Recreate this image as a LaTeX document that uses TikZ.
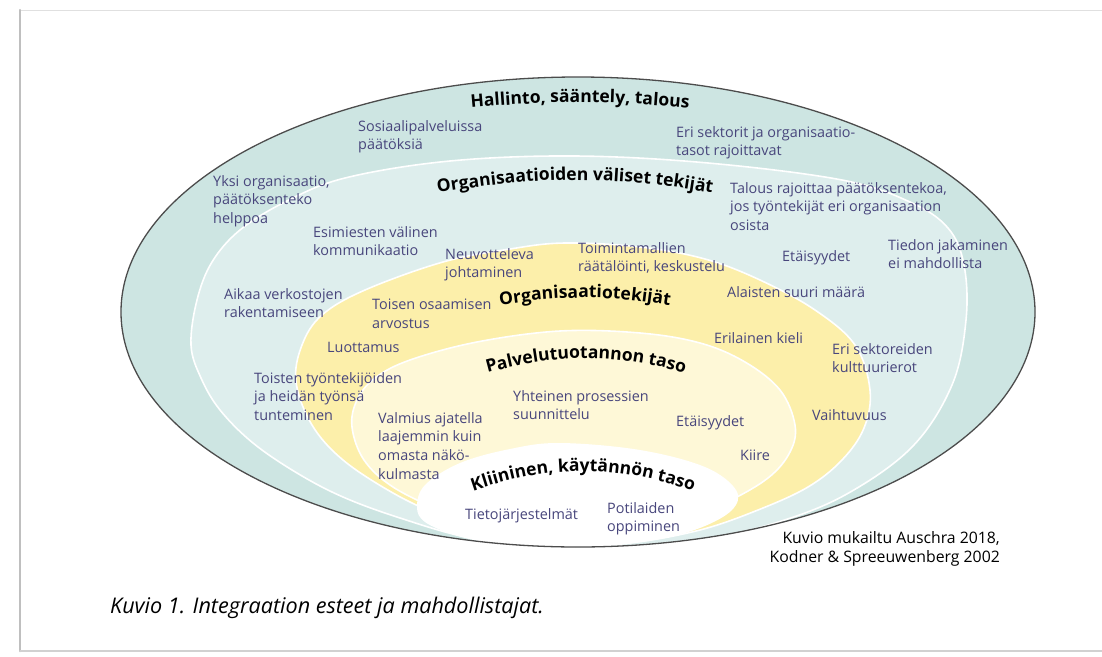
\documentclass[tikz,border=0pt]{standalone}
\usepackage{fontspec}
\setmainfont{Open Sans}
\usetikzlibrary{decorations.text}
\definecolor{tealout}{RGB}{205,229,226}
\definecolor{tealin}{RGB}{222,238,237}
\definecolor{yelout}{RGB}{252,239,170}
\definecolor{yelin}{RGB}{254,248,215}
\definecolor{lblcol}{RGB}{72,70,124}
\begin{document}
\begin{tikzpicture}[x=1pt,y=-1pt,line join=round,line cap=round,
  lbl/.style={font=\fontsize{14.4}{18.7}\selectfont,text=lblcol,align=left,anchor=north west,
    inner sep=0pt,execute at begin node=\strut,yshift=13.1pt},
  ttl/.style={decorate,decoration={text along path,text align=center,
    text={|\bfseries\fontsize{17.5}{19}\selectfont|#1}}},
  ring/.style={draw=white,line width=1.6pt}]
\useasboundingbox (0,0) rectangle (1102,656);
% page frame
\draw[black!12,line width=1pt] (1102,10) -- (20,10);
\draw[black!25,line width=2.5pt] (20,10) -- (20,651);
\draw[black!18,line width=1.5pt] (20,651) -- (1102,651);
% outer level
\def\cx{578} \def\cy{312}
\fill[tealout] (\cx,\cy) ellipse [x radius=457, y radius=235];
\begin{scope}
\clip (\cx,\cy) ellipse [x radius=457, y radius=235];
\filldraw[fill=tealin,ring] plot[smooth cycle,tension=0.6] coordinates {(191,345) (197,300) (212,262) (240,230) (285,202) (345,178) (450,161) (575,156) (708,163) (842,180) (910,202) (948,228) (964,265) (966,320) (952,385) (912,447) (845,495) (775,523) (700,540) (620,546) (545,547) (470,538) (400,518) (343,497) (297,473) (253,443) (220,410) (201,378)};
\filldraw[fill=yelout,ring] plot[smooth cycle,tension=0.6] coordinates {(296,382) (302,345) (322,315) (365,290) (443,262) (510,249) (565,243) (640,247) (705,259) (760,280) (815,310) (855,345) (870,390) (864,428) (842,460) (808,487) (758,510) (700,530) (630,543) (560,547) (500,540) (443,517) (393,493) (343,460) (312,425)};
\filldraw[fill=yelin,ring] plot[smooth cycle,tension=0.6] coordinates {(352,427) (357,400) (375,378) (410,360) (477,342) (560,331) (640,333) (700,343) (745,362) (780,390) (795,425) (790,452) (768,478) (725,503) (675,523) (620,540) (560,547) (500,537) (443,512) (393,487) (364,460)};
\fill[white] plot[smooth cycle,tension=0.6] coordinates {(417,507) (425,485) (460,463) (510,449) (560,443) (640,450) (705,467) (736,490) (732,510) (700,528) (655,540) (600,546) (545,548) (495,544) (455,535) (425,522)};
\end{scope}
\draw[black!70,line width=1.3pt] (\cx,\cy) ellipse [x radius=457, y radius=235];
% level titles
\path[ttl={Hallinto, sääntely, talous}] (440,111) to[bend left=6] (720,111);
\path[ttl={Organisaatioiden väliset tekijät}] (405,199) to[bend left=11] (745,199);
\path[ttl={Organisaatiotekijät}] (460,313) to[bend left=12] (710,313);
\path[ttl={Palvelutuotannon taso}] (452,384) to[bend left=19] (720,384);
\path[ttl={Kliininen, käytännön taso}] (436,506) to[bend left=24] (730,506);
% barriers and enablers
\foreach \x/\y/\t/\n in {
  358/133/{Sosiaalipalveluissa\\päätöksiä}/sos,
  676/139/{Eri sektorit ja organisaatio-\\tasot rajoittavat}/sektorit,
  213/188/{Yksi organisaatio,\\päätöksenteko\\helppoa}/yksi,
  730/195/{Talous rajoittaa päätöksentekoa,\\jos työntekijät eri organisaation\\osista}/talous,
  313/239/{Esimiesten välinen\\kommunikaatio}/esim,
  445/261/{Neuvotteleva\\johtaminen}/neuv,
  578/255/{Toimintamallien\\räätälöinti, keskustelu}/toim,
  782/261/{Etäisyydet}/etaA,
  888/252/{Tiedon jakaminen\\ei mahdollista}/tiedon,
  727/297/{Alaisten suuri määrä}/alaiset,
  224/301/{Aikaa verkostojen\\rakentamiseen}/aikaa,
  372/312/{Toisen osaamisen\\arvostus}/toisen,
  327/352/{Luottamus}/luott,
  714/343/{Erilainen kieli}/kieli,
  832/356/{Eri sektoreiden\\kulttuurierot}/kulttuuri,
  254/385/{Toisten työntekijöiden\\ja heidän työnsä\\tunteminen}/toisten,
  513/403/{Yhteinen prosessien\\suunnittelu}/yht,
  378/425/{Valmius ajatella\\laajemmin kuin\\omasta näkö-\\kulmasta}/valmius,
  676/426/{Etäisyydet}/etaB,
  812/420/{Vaihtuvuus}/vaiht,
  740/460/{Kiire}/kiire,
  465/519/{Tietojärjestelmät}/tieto,
  607/515/{Potilaiden\\oppiminen}/potil}
  \node[lbl] (\n) at (\x,\y) {\t};
% source and caption
\node[font=\fontsize{15.8}{19}\selectfont,align=right,anchor=base east,inner sep=0pt] (lahde) at (1000,562) {Kuvio mukailtu Auschra 2018,\\Kodner \& Spreeuwenberg 2002};
\node[font=\itshape\fontsize{21.6}{24}\selectfont,anchor=base west,inner sep=0pt] (kuvio) at (110,613) {Kuvio 1. Integraation esteet ja mahdollistajat.};
\end{tikzpicture}
\end{document}
